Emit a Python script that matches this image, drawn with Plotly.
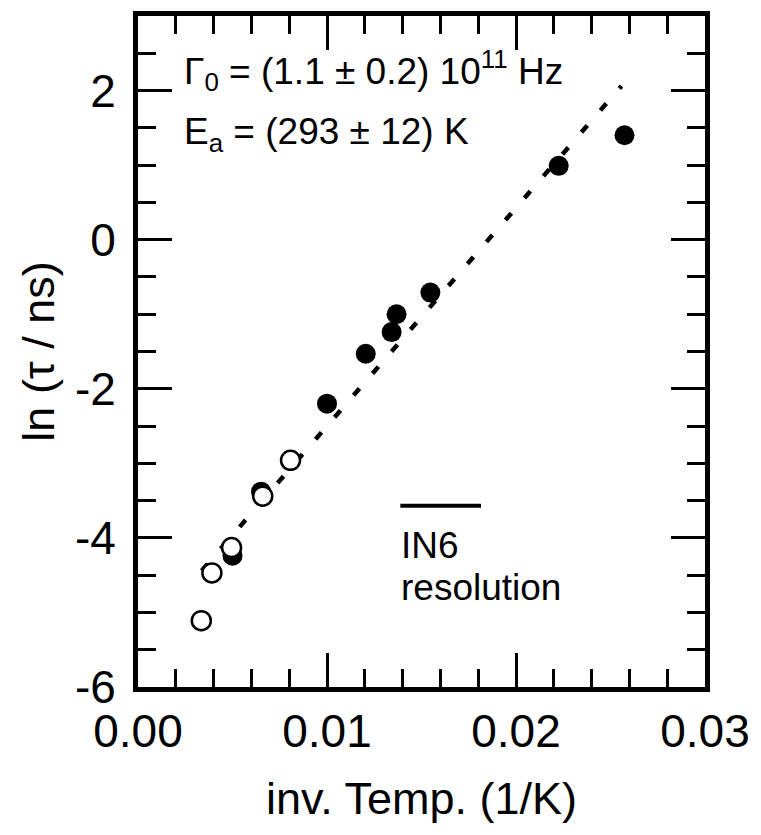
import plotly.graph_objects as go

# Data
filled_x = [0.00500, 0.00651, 0.01000, 0.01205, 0.01342, 0.01368, 0.01547, 0.02226, 0.02574]
filled_y = [-4.24, -3.38, -2.20, -1.53, -1.24, -1.00, -0.71, 0.99, 1.40]

open_x = [0.00335, 0.00391, 0.00495, 0.00660, 0.00807]
open_y = [-5.11, -4.47, -4.13, -3.44, -2.96]

fit_x = [0.00337, 0.02558]
fit_y = [-4.44, 2.06]

res_x = [0.01388, 0.01815]
res_y = [-3.57, -3.57]

x_ticks = [0, 0.01, 0.02, 0.03]
x_ticktext = ["0.00", "0.01", "0.02", "0.03"]
y_ticks = [-6, -4, -2, 0, 2]
y_ticktext = ["-6", "-4", "-2", "0", "2"]

FONT = "Liberation Sans, Arial, Helvetica, sans-serif"

fig = go.Figure()
fig.add_trace(go.Scatter(x=fit_x, y=fit_y, mode="lines",
                         line=dict(color="black", width=4.5, dash="9px,20px"),
                         showlegend=False, hoverinfo="skip"))
fig.add_trace(go.Scatter(x=res_x, y=res_y, mode="lines",
                         line=dict(color="black", width=4),
                         showlegend=False, hoverinfo="skip"))
fig.add_trace(go.Scatter(x=filled_x, y=filled_y, mode="markers",
                         marker=dict(symbol="circle", size=20, color="black",
                                     line=dict(width=0)),
                         showlegend=False))
fig.add_trace(go.Scatter(x=open_x, y=open_y, mode="markers",
                         marker=dict(symbol="circle", size=19, color="white",
                                     line=dict(width=2.5, color="black")),
                         showlegend=False))

ANN = 37
fig.add_annotation(x=0.00232, y=2.27, xref="x", yref="y",
                   text="Γ<sub>0</sub> = (1.1 ± 0.2) 10<sup>11</sup> Hz",
                   showarrow=False, xanchor="left", yanchor="middle",
                   font=dict(family=FONT, size=ANN, color="black"))
fig.add_annotation(x=0.00232, y=1.42, xref="x", yref="y",
                   text="E<sub>a</sub> = (293 ± 12) K",
                   showarrow=False, xanchor="left", yanchor="middle",
                   font=dict(family=FONT, size=ANN, color="black"))
fig.add_annotation(x=0.01380, y=-4.10, xref="x", yref="y",
                   text="IN6", align="left",
                   showarrow=False, xanchor="left", yanchor="middle",
                   font=dict(family=FONT, size=ANN, color="black"))
fig.add_annotation(x=0.01380, y=-4.67, xref="x", yref="y",
                   text="resolution", align="left",
                   showarrow=False, xanchor="left", yanchor="middle",
                   font=dict(family=FONT, size=ANN, color="black"))

TICKF = 46
axis_common = dict(showgrid=False, zeroline=False, showline=True, linecolor="black",
                   linewidth=5, mirror="ticks", ticks="inside", ticklen=34,
                   tickwidth=3, tickcolor="black",
                   tickfont=dict(family=FONT, size=TICKF, color="black"))

fig.update_xaxes(range=[0, 0.03], tickvals=x_ticks, ticktext=x_ticktext,
                 minor=dict(dtick=0.002, ticklen=18, tickwidth=3, tickcolor="black",
                            ticks="inside", showgrid=False),
                 title=dict(text="inv. Temp. (1/K)", standoff=28,
                            font=dict(family=FONT, size=45, color="black")),
                 **axis_common)
fig.update_yaxes(range=[-6, 3], tickvals=y_ticks, ticktext=y_ticktext,
                 ticklabelstandoff=8,
                 minor=dict(dtick=0.5, ticklen=18, tickwidth=3, tickcolor="black",
                            ticks="inside", showgrid=False),
                 title=dict(text="ln (τ / ns)", standoff=8,
                            font=dict(family=FONT, size=45, color="black")),
                 **axis_common)

fig.update_layout(width=761, height=835, plot_bgcolor="white", paper_bgcolor="white",
                  margin=dict(l=138, r=53, t=11, b=148), showlegend=False)

fig.write_html("out.html")
